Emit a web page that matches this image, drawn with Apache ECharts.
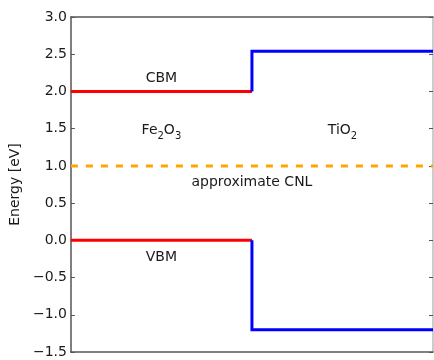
<!DOCTYPE html>
<html>
<head>
<meta charset="utf-8">
<script src="https://cdn.jsdelivr.net/npm/echarts@6/dist/echarts.min.js"></script>
<style>html,body{margin:0;padding:0;background:#fff}#c{width:434px;height:360px}</style>
</head>
<body>
<div id="c"></div>
<script>
// Data
var materials = ['Fe2O3', 'TiO2'];
var boundaries = [0, 1, 2];            // x extent of each material region
var cbm = [2.0, 2.54];                 // conduction band minimum [eV]
var vbm = [0.0, -1.2];                 // valence band maximum [eV]
var cnl = 1.0;                         // approximate charge neutrality level
var yTicks = [-1.5, -1.0, -0.5, 0.0, 0.5, 1.0, 1.5, 2.0, 2.5, 3.0];
var annText = ['CBM', 'Fe2O3', 'TiO2', 'approximate CNL', 'VBM'];
var annX = [0.5, 0.5, 1.5, 1.0, 0.5];
var annY = [2.2, 1.5, 1.5, 0.8, -0.2];

var FONT = '"DejaVu Sans", sans-serif';
var AX = '#555';
var TXT = '#1a1a1a';

// Build band lines
var redCbm = [[boundaries[0], cbm[0]], [boundaries[1], cbm[0]]];
var redVbm = [[boundaries[0], vbm[0]], [boundaries[1], vbm[0]]];
var blueCbm = [[boundaries[1], cbm[0]], [boundaries[1], cbm[1]], [boundaries[2], cbm[1]]];
var blueVbm = [[boundaries[1], vbm[0]], [boundaries[1], vbm[1]], [boundaries[2], vbm[1]]];
var cnlLine = [[boundaries[0], cnl], [boundaries[2], cnl]];

function richName(s) {
  return s.replace(/(\d+)|(\D+)/g, function (m, d, t) {
    return d ? '{s|' + d + '}' : '{n|' + t + '}';
  });
}

function lineSeries(data, color, type) {
  return {
    type: 'line', data: data, symbol: 'none', silent: true, z: 3,
    lineStyle: { color: color, width: 3, type: type || 'solid', cap: 'butt', join: 'miter' },
    animation: false
  };
}

var chart = echarts.init(document.getElementById('c'), null, { renderer: 'canvas' });
chart.setOption({
  animation: false,
  backgroundColor: '#fff',
  grid: { left: 69, right: 1, top: 17, bottom: 8 },
  xAxis: [
    { type: 'value', min: boundaries[0], max: boundaries[boundaries.length - 1], position: 'bottom',
      axisLine: { show: true, onZero: false, lineStyle: { color: AX, width: 1.5 } },
      axisTick: { show: false }, axisLabel: { show: false }, splitLine: { show: false } },
    { type: 'value', min: boundaries[0], max: boundaries[boundaries.length - 1], position: 'top',
      axisLine: { show: true, onZero: false, lineStyle: { color: AX, width: 1.5 } },
      axisTick: { show: false }, axisLabel: { show: false }, splitLine: { show: false } }
  ],
  yAxis: [
    { type: 'value', min: yTicks[0], max: yTicks[yTicks.length - 1], interval: 0.5, position: 'left',
      name: 'Energy [eV]', nameLocation: 'middle', nameGap: 44,
      nameTextStyle: { fontFamily: FONT, fontSize: 14, color: TXT },
      axisLine: { show: true, onZero: false, lineStyle: { color: AX, width: 1.5 } },
      axisTick: { show: true, inside: true, length: 4, lineStyle: { color: AX } },
      axisLabel: { fontFamily: FONT, fontSize: 14, color: TXT, margin: 4,
        formatter: function (v) { var s = Math.abs(v).toFixed(1); return v < 0 ? '\u2212' + s : s; } },
      splitLine: { show: false } },
    { type: 'value', min: yTicks[0], max: yTicks[yTicks.length - 1], interval: 0.5, position: 'right',
      axisLine: { show: true, onZero: false, lineStyle: { color: '#bbb', width: 1.5 } },
      axisTick: { show: true, inside: true, length: 4, lineStyle: { color: AX } },
      axisLabel: { show: false }, splitLine: { show: false } }
  ],
  series: [
    lineSeries(redCbm, '#ff0000'),
    lineSeries(redVbm, '#ff0000'),
    lineSeries(blueCbm, '#0000ff'),
    lineSeries(blueVbm, '#0000ff'),
    lineSeries(cnlLine, '#ffa500', [7, 8]),
    {
      type: 'scatter', symbolSize: 0, silent: true, z: 5,
      itemStyle: { opacity: 0 },
      data: annText.map(function (t, i) { return { name: t, value: [annX[i], annY[i]] }; }),
      label: {
        show: true, position: 'inside', color: TXT, opacity: 1, textBorderWidth: 0,
        formatter: function (p) { return richName(p.name); },
        rich: {
          n: { fontFamily: FONT, fontSize: 14, color: TXT, lineHeight: 18, verticalAlign: 'bottom' },
          s: { fontFamily: FONT, fontSize: 10, color: TXT, lineHeight: 18, verticalAlign: 'bottom', padding: [0, 0, -4, 0] }
        }
      }
    }
  ]
});
</script>
</body>
</html>
